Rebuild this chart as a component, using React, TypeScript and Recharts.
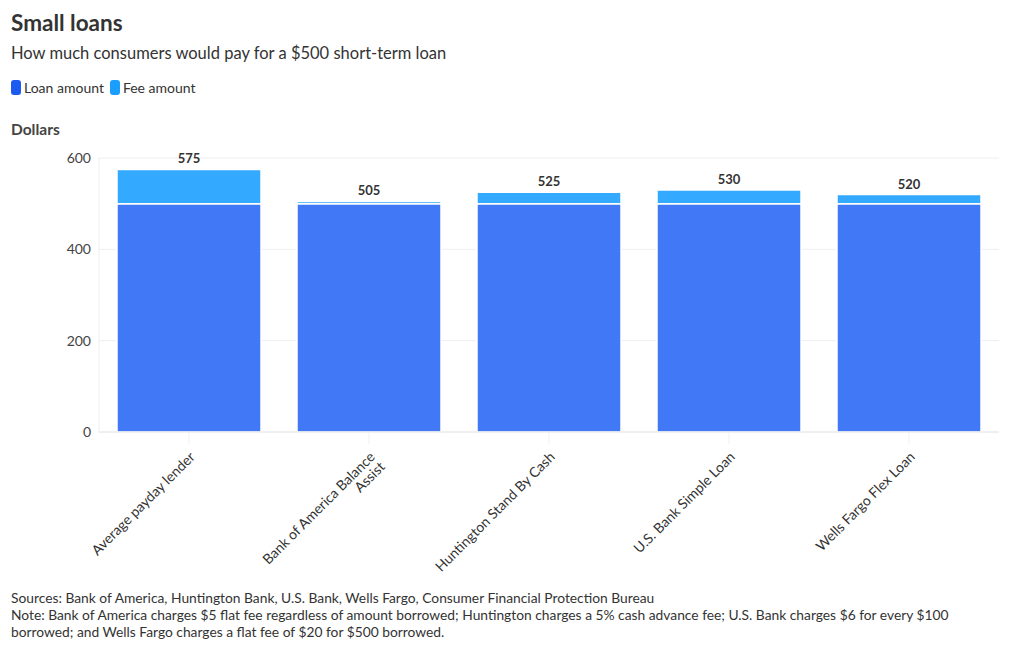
import { BarChart, Bar, XAxis, YAxis, CartesianGrid, LabelList } from 'recharts';

const lenders = [
  'Average payday lender',
  'Bank of America Balance Assist',
  'Huntington Stand By Cash',
  'U.S. Bank Simple Loan',
  'Wells Fargo Flex Loan',
];
const loanAmounts = [500, 500, 500, 500, 500];
const feeAmounts = [75, 5, 25, 30, 20];
const yTicks = [0, 200, 400, 600];

const loanColor = '#4178F5';
const feeColor = '#33A9FF';
const font = 'Lato, "Noto Sans", sans-serif';

const rows = lenders.map((name, i) => ({
  name,
  loan: loanAmounts[i],
  fee: feeAmounts[i],
  total: loanAmounts[i] + feeAmounts[i],
}));

// split long labels roughly the way the original wraps them
function wrap(label: string, max = 24) {
  const words = label.split(' ');
  const lines: string[] = [];
  let cur = '';
  for (const w of words) {
    const next = cur ? cur + ' ' + w : w;
    if (next.length > max && cur) {
      lines.push(cur);
      cur = w;
    } else cur = next;
  }
  if (cur) lines.push(cur);
  return lines;
}

function AngledTick(props: any) {
  const { x, y, payload } = props;
  const lines = wrap(payload.value);
  return (
    <g transform={`translate(${x + 4},${y + 9})`}>
      <text transform="rotate(-45)" textAnchor="end" fill="#333" fontSize={14} fontFamily={font}>
        {lines.map((l, i) => (
          <tspan key={i} x={0} dy={i === 0 ? 4 : 14}>
            {l}
          </tspan>
        ))}
      </text>
    </g>
  );
}

function LegendItem({ color, label }: { color: string; label: string }) {
  return (
    <span style={{ display: 'inline-flex', alignItems: 'center', marginRight: 6 }}>
      <span style={{ width: 10, height: 15, borderRadius: 3, background: color, display: 'inline-block', marginRight: 3 }} />
      {label}
    </span>
  );
}

export default function App() {
  return (
    <div style={{ position: 'absolute', left: 0, top: 0, width: 1020, height: 650, background: '#fff', fontFamily: font, color: '#333' }}>
      <div style={{ position: 'absolute', left: 11, top: 9, fontSize: 22.5, fontWeight: 700 }}>Small loans</div>
      <div style={{ position: 'absolute', left: 11, top: 43, fontSize: 16.5 }}>How much consumers would pay for a $500 short-term loan</div>
      <div style={{ position: 'absolute', left: 11, top: 79, fontSize: 14, display: 'flex' }}>
        <LegendItem color="#1D5BF0" label="Loan amount" />
        <LegendItem color="#1A9FFF" label="Fee amount" />
      </div>
      <div style={{ position: 'absolute', left: 11, top: 120, fontSize: 15.5, fontWeight: 700, color: '#444' }}>Dollars</div>

      <div style={{ position: 'absolute', left: 0, top: 0 }}>
        <BarChart
          width={1020}
          height={650}
          data={rows}
          margin={{ top: 158, right: 21, bottom: 98, left: 39 }}
          barCategoryGap="10%"
        >
          <CartesianGrid vertical={false} stroke="#eeeeee" />
          <XAxis
            dataKey="name"
            interval={0}
            height={120}
            tick={<AngledTick />}
            axisLine={{ stroke: '#e6e6e6' }}
            tickLine={{ stroke: '#f0f0f0' }}
            tickSize={12}
          />
          <YAxis
            width={60}
            domain={[0, 600]}
            ticks={yTicks}
            axisLine={{ stroke: '#eeeeee' }}
            tickLine={false}
            tick={{ fill: '#444', fontSize: 14, fontFamily: font }}
          />
          <Bar dataKey="loan" stackId="a" fill={loanColor} stroke="#fff" strokeWidth={1.5} isAnimationActive={false} />
          <Bar dataKey="fee" stackId="a" fill={feeColor} stroke="#fff" strokeWidth={1.5} isAnimationActive={false}>
            <LabelList dataKey="total" position="top" offset={6} fill="#333" fontSize={13} fontWeight={700} fontFamily={font} />
          </Bar>
        </BarChart>
      </div>

      <div style={{ position: 'absolute', left: 11, top: 589, width: 990, fontSize: 13.8, lineHeight: '17px' }}>
        Sources: Bank of America, Huntington Bank, U.S. Bank, Wells Fargo, Consumer Financial Protection Bureau
        <br />
        Note: Bank of America charges $5 flat fee regardless of amount borrowed; Huntington charges a 5% cash advance fee; U.S. Bank charges $6 for every $100 borrowed; and Wells Fargo charges a flat fee of $20 for $500 borrowed.
      </div>
    </div>
  );
}
